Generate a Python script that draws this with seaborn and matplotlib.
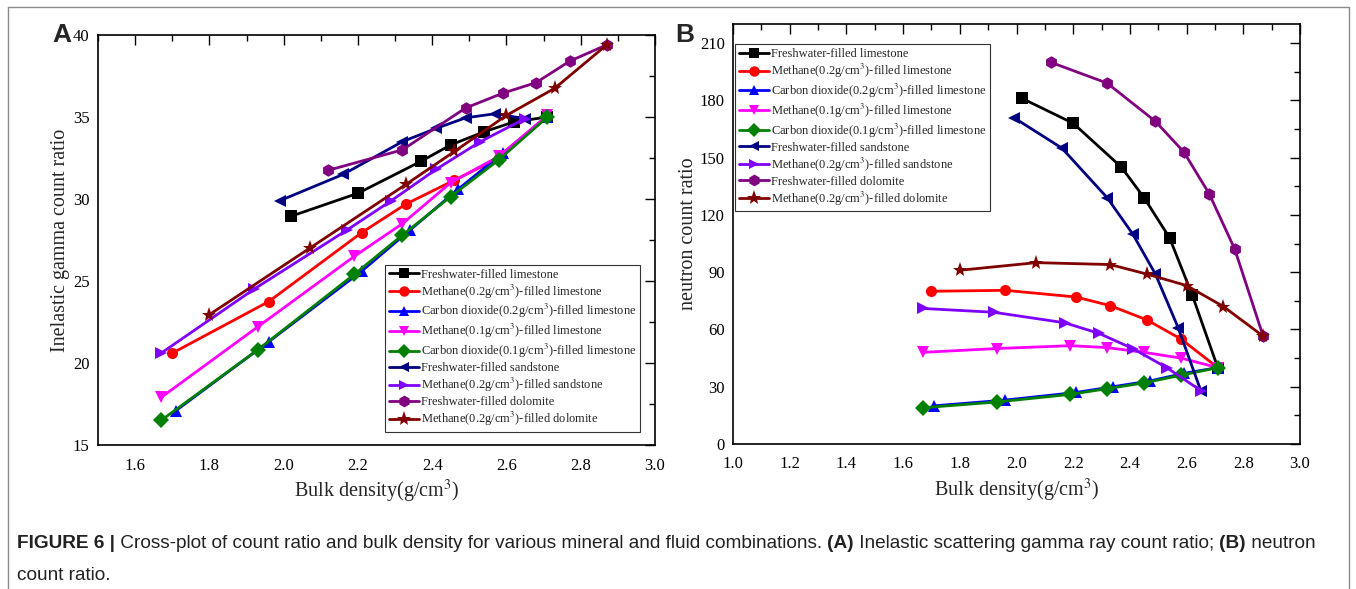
import numpy as np
import pandas as pd
import matplotlib
matplotlib.use("Agg")
import matplotlib.pyplot as plt
import seaborn as sns
from matplotlib.lines import Line2D
from matplotlib.ticker import MultipleLocator

# ---------------- data ----------------
series_names = [
    "Freshwater-filled limestone",
    "Methane(0.2g/cm$^3$)-filled limestone",
    "Carbon dioxide(0.2g/cm$^3$)-filled limestone",
    "Methane(0.1g/cm$^3$)-filled limestone",
    "Carbon dioxide(0.1g/cm$^3$)-filled limestone",
    "Freshwater-filled sandstone",
    "Methane(0.2g/cm$^3$)-filled sandstone",
    "Freshwater-filled dolomite",
    "Methane(0.2g/cm$^3$)-filled dolomite",
]
colors = ["#000000", "#FF0000", "#0000FF", "#FF00FF", "#008000",
          "#000080", "#8000FF", "#800080", "#800000"]
markers = ["s", "o", "^", "v", "D", "<", ">", "h", "*"]

# bulk density (g/cm3) for each series
rho_fw_lime = [2.02, 2.20, 2.37, 2.45, 2.54, 2.62, 2.71]
rho_ch4_02_lime = [1.70, 1.96, 2.21, 2.33, 2.46, 2.58, 2.71]
rho_co2_02_lime = [1.71, 1.96, 2.21, 2.34, 2.47, 2.59, 2.71]
rho_ch4_01_lime = [1.67, 1.93, 2.19, 2.32, 2.45, 2.58, 2.71]
rho_co2_01_lime = [1.67, 1.93, 2.19, 2.32, 2.45, 2.58, 2.71]
rho_fw_sand = [1.99, 2.16, 2.32, 2.41, 2.49, 2.57, 2.65]
rho_ch4_sand = [1.67, 1.92, 2.17, 2.29, 2.41, 2.53, 2.65]
rho_fw_dolo = [2.12, 2.32, 2.49, 2.59, 2.68, 2.77, 2.87]
rho_ch4_dolo = [1.80, 2.07, 2.33, 2.46, 2.60, 2.73, 2.87]

# (A) inelastic gamma count ratio
gam_fw_lime = [28.95, 30.35, 32.3, 33.3, 34.1, 34.7, 35.0]
gam_ch4_02_lime = [20.6, 23.75, 27.95, 29.7, 31.15, 32.5, 35.0]
gam_co2_02_lime = [17.1, 21.3, 25.6, 28.1, 30.6, 32.8, 35.0]
gam_ch4_01_lime = [17.9, 22.2, 26.5, 28.5, 31.0, 32.6, 35.1]
gam_co2_01_lime = [16.5, 20.8, 25.4, 27.8, 30.15, 32.4, 35.0]
gam_fw_sand = [29.9, 31.5, 33.5, 34.3, 34.95, 35.2, 34.9]
gam_ch4_sand = [20.6, 24.5, 28.1, 29.9, 31.8, 33.5, 34.9]
gam_fw_dolo = [31.75, 33.0, 35.55, 36.45, 37.1, 38.4, 39.4]
gam_ch4_dolo = [22.95, 27.0, 30.9, 32.9, 35.1, 36.75, 39.4]

# (B) neutron count ratio
neu_fw_lime = [181, 168, 145, 129, 108, 78, 40]
neu_ch4_02_lime = [80, 80.5, 77, 72.5, 65, 55, 40]
neu_co2_02_lime = [20, 23, 27, 30, 33, 37, 40]
neu_ch4_01_lime = [48, 50, 51.5, 50.5, 48, 45, 40]
neu_co2_01_lime = [19, 22, 26, 29, 32, 36, 40]
neu_fw_sand = [171, 155, 129, 110, 89, 61, 28]
neu_ch4_sand = [71, 69, 63.5, 58, 50, 40, 28]
neu_fw_dolo = [200, 189, 169, 153, 131, 102, 56.5]
neu_ch4_dolo = [91, 95, 94, 89, 83, 72, 56.5]

rho_all = [rho_fw_lime, rho_ch4_02_lime, rho_co2_02_lime, rho_ch4_01_lime,
           rho_co2_01_lime, rho_fw_sand, rho_ch4_sand, rho_fw_dolo, rho_ch4_dolo]
gam_all = [gam_fw_lime, gam_ch4_02_lime, gam_co2_02_lime, gam_ch4_01_lime,
           gam_co2_01_lime, gam_fw_sand, gam_ch4_sand, gam_fw_dolo, gam_ch4_dolo]
neu_all = [neu_fw_lime, neu_ch4_02_lime, neu_co2_02_lime, neu_ch4_01_lime,
           neu_co2_01_lime, neu_fw_sand, neu_ch4_sand, neu_fw_dolo, neu_ch4_dolo]

rows = []
for name, rr, gg, nn in zip(series_names, rho_all, gam_all, neu_all):
    for i, (r, g, n) in enumerate(zip(rr, gg, nn)):
        rows.append({"series": name, "idx": i, "rho": r, "gamma": g, "neutron": n})
df = pd.DataFrame(rows)

# ---------------- style ----------------
sns.set_style("white")
plt.rcParams["font.family"] = ["Liberation Serif", "DejaVu Serif"]
plt.rcParams["mathtext.fontset"] = "stix"

fig = plt.figure(figsize=(13.56, 5.89), dpi=100)
W, H = 1356, 589

def fx(px):
    return px / W

def fy(py):
    return 1 - py / H

axA = fig.add_axes([fx(98), fy(445), fx(655) - fx(98), fy(35) - fy(445)])
axB = fig.add_axes([fx(733), fy(444), fx(1300) - fx(733), fy(24) - fy(444)])

palette = dict(zip(series_names, colors))
marker_map = dict(zip(series_names, markers))

for ax, ycol in [(axA, "gamma"), (axB, "neutron")]:
    sns.lineplot(data=df, x="rho", y=ycol, hue="series", style="series",
                 hue_order=series_names, style_order=series_names,
                 palette=palette, markers=marker_map, dashes=False,
                 sort=False, estimator=None, units=None,
                 linewidth=2.0, markersize=8, markeredgewidth=0,
                 ax=ax, legend="full")
    for ln in ax.lines:
        if ln.get_marker() == "*":
            ln.set_markersize(11)
        elif ln.get_marker() == "h":
            ln.set_markersize(9)
    ax.tick_params(which="both", direction="in", top=True, right=True,
                   labelsize=12, width=1.0, colors="black")
    ax.tick_params(which="major", length=7)
    ax.tick_params(which="minor", length=4)
    ax.tick_params(axis="x", which="major", pad=9)
    ax.tick_params(axis="y", which="major", pad=6)
    for sp in ax.spines.values():
        sp.set_linewidth(1.2)
        sp.set_color("black")
    ax.set_xlabel("Bulk density(g/cm$^3$)", fontsize=14.5, labelpad=3)

axA.set_xlim(1.5, 3.0)
axA.set_ylim(15, 40)
axA.xaxis.set_major_locator(MultipleLocator(0.2))
axA.xaxis.set_minor_locator(MultipleLocator(0.1))
axA.yaxis.set_major_locator(MultipleLocator(5))
axA.yaxis.set_minor_locator(MultipleLocator(2.5))
axA.set_xticks([1.6, 1.8, 2.0, 2.2, 2.4, 2.6, 2.8, 3.0])
axA.set_ylabel("Inelastic gamma count ratio", fontsize=14.5, labelpad=2)

axB.set_xlim(1.0, 3.0)
axB.set_ylim(0, 220)
axB.xaxis.set_major_locator(MultipleLocator(0.2))
axB.xaxis.set_minor_locator(MultipleLocator(0.1))
axB.yaxis.set_major_locator(MultipleLocator(30))
axB.yaxis.set_minor_locator(MultipleLocator(15))
axB.set_yticks([0, 30, 60, 90, 120, 150, 180, 210])
axB.set_ylabel("neutron count ratio", fontsize=14.5, labelpad=1)

def restyle_legend(ax, **kw):
    handles, labels = ax.get_legend_handles_labels()
    new_handles = []
    for h, lab in zip(handles, labels):
        i = series_names.index(lab)
        ms = 11 if markers[i] == "*" else (8.5 if markers[i] == "h" else 7.5)
        new_handles.append(Line2D([0], [0], color=colors[i], marker=markers[i],
                                  markersize=ms, markeredgewidth=0, linewidth=2.0))
    leg = ax.legend(new_handles, labels, fontsize=9, handlelength=2.4,
                    handletextpad=0.15, labelspacing=0.15, borderpad=0.3,
                    borderaxespad=0, frameon=True, fancybox=False,
                    framealpha=1, edgecolor="#333333", **kw)
    leg.get_frame().set_linewidth(0.8)
    return leg

restyle_legend(axA, loc="lower right", bbox_to_anchor=(0.973, 0.032))
restyle_legend(axB, loc="upper left", bbox_to_anchor=(0.004, 0.952))

# panel letters
fig.text(fx(62), fy(35), "A", fontsize=19, fontweight="bold",
         family=["Liberation Sans", "DejaVu Sans"], ha="center", va="center")
fig.text(fx(685), fy(35), "B", fontsize=19, fontweight="bold",
         family=["Liberation Sans", "DejaVu Sans"], ha="center", va="center")

# figure border (open at bottom)
border = dict(color="#8a8a8a", linewidth=1.0, transform=fig.transFigure)
fig.add_artist(Line2D([fx(8), fx(8)], [0, fy(7)], **border))
fig.add_artist(Line2D([fx(8), fx(1349)], [fy(7), fy(7)], **border))
fig.add_artist(Line2D([fx(1349), fx(1349)], [fy(7), 0], **border))

# caption with mixed weights
renderer = fig.canvas.get_renderer()
cap_font = ["Liberation Sans", "DejaVu Sans"]
cap_size = 13.7
pieces = [
    ("FIGURE 6 |", "bold"),
    (" Cross-plot of count ratio and bulk density for various mineral and fluid combinations. ", "normal"),
    ("(A)", "bold"),
    (" Inelastic scattering gamma ray count ratio; ", "normal"),
    ("(B)", "bold"),
    (" neutron", "normal"),
]
x = fx(17)
for s, wgt in pieces:
    t = fig.text(x, fy(543), s, fontsize=cap_size, fontweight=wgt, family=cap_font,
                 ha="left", va="center", color="#222222")
    bb = t.get_window_extent(renderer)
    x = bb.x1 / fig.bbox.width
fig.text(fx(17), fy(575), "count ratio.", fontsize=cap_size, family=cap_font,
         ha="left", va="center", color="#222222")

fig.savefig("out.png", dpi=100)
